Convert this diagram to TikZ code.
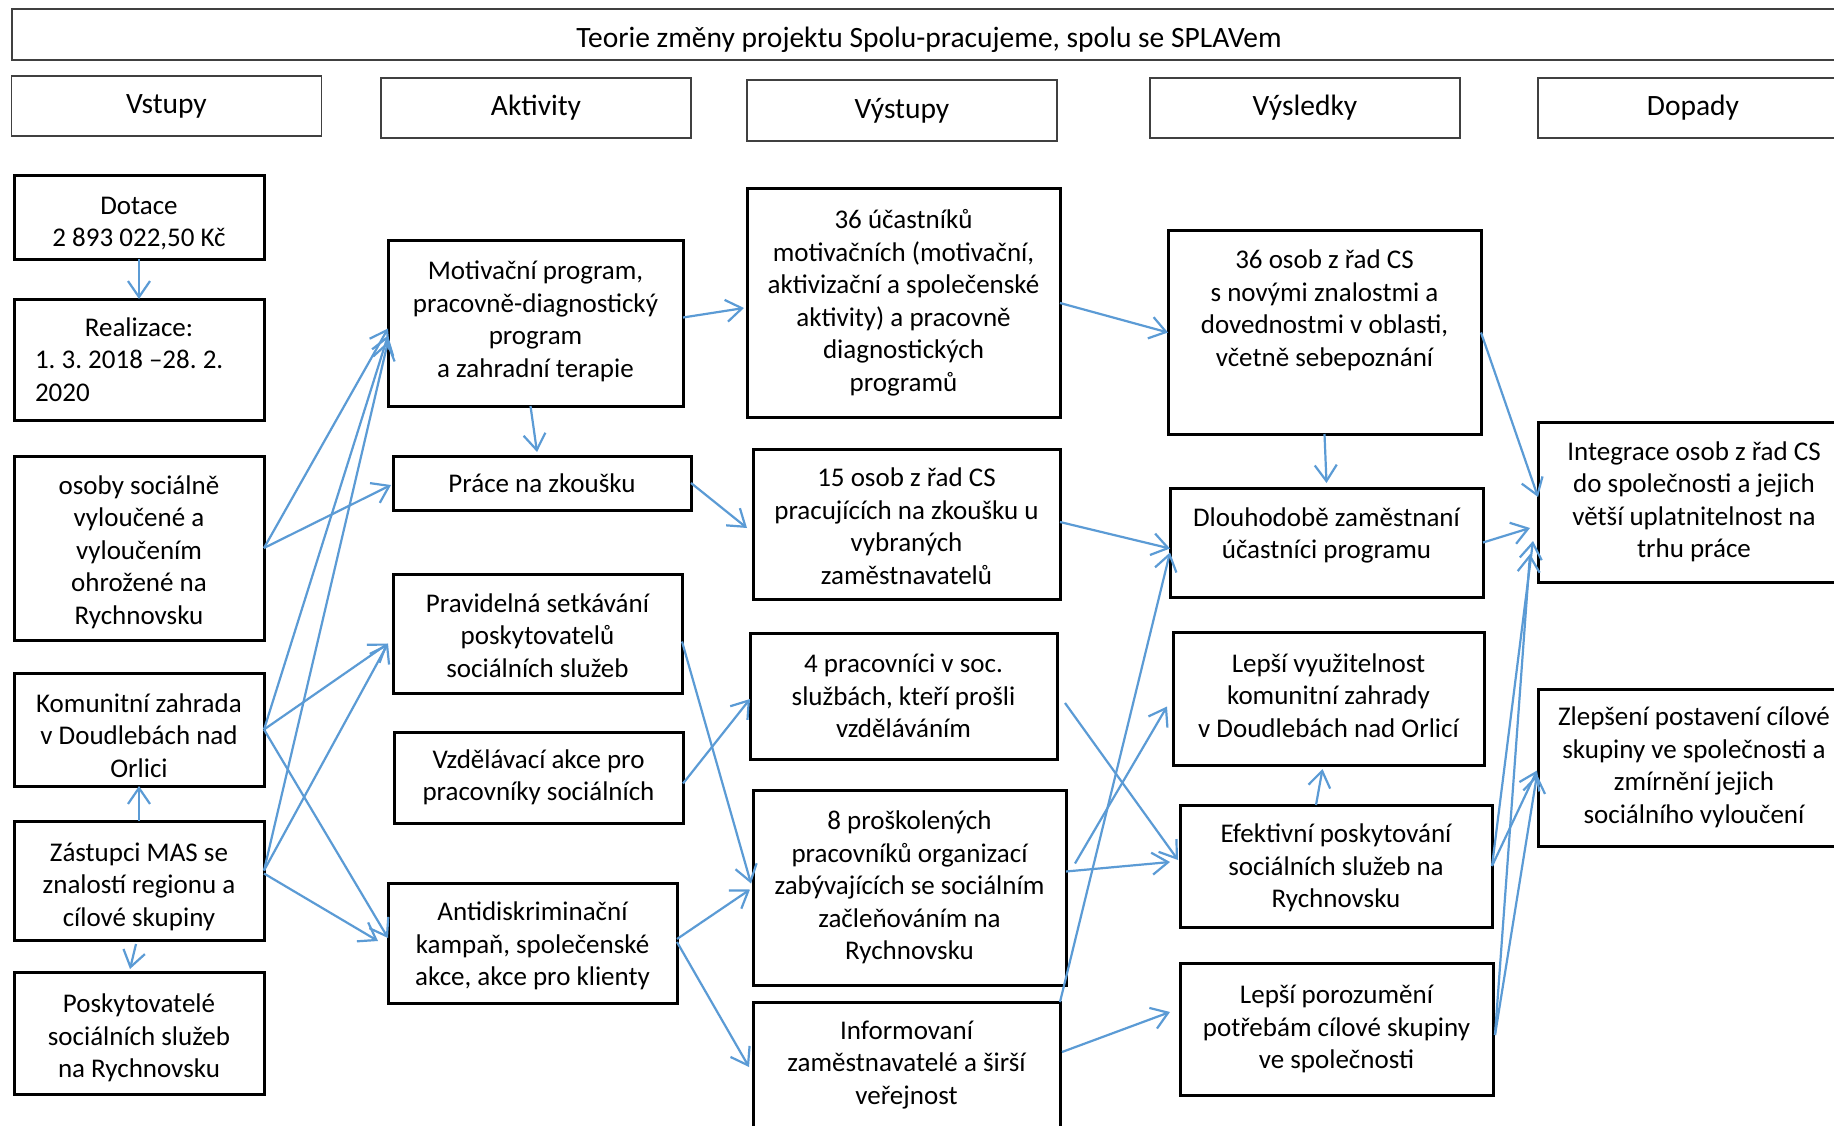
\documentclass[tikz,border=0pt]{standalone}
\usepackage{fontspec}
\setmainfont{Carlito}
\frenchspacing
\usetikzlibrary{positioning,calc,arrows.meta}
\definecolor{myblue}{RGB}{91,155,213}
\definecolor{mygrey}{RGB}{64,64,64}
\pgfdeclarelayer{background}
\pgfsetlayers{background,main}
\newcommand\statebox[4][0pt]{
    \node[
        blackb,
        #3,
    label={[name=#2T,align=center,yshift=#1]center:{#4}}] (#2) {};
}

\begin{document}
\begin{tikzpicture}[x=1pt,y=-1pt,outer sep=0pt,
            font=\fontsize{27}{32.5}\selectfont,
            headb/.style={
                draw=mygrey,
                line width=1.5pt,
                align=center,
                font=\fontsize{29.5}{36}\selectfont,
                minimum width=310pt,
            minimum height=60pt},
            blackb/.style={
                draw=black,
                line width=3pt,
            align=center},
            linkb/.style={
                draw=myblue,
                line width=2.2pt,
            -{Straight Barb[length=16pt,width=22pt]}},
        ]
        \useasboundingbox (0,0) rectangle (1834,1126);

        \node[headb,minimum width=1834pt,minimum height=51pt,
            label={[name=TitleT,font=\fontsize{29.5}{36}\selectfont,yshift=-5pt]center:{Teorie změny projektu Spolu-pracujeme, spolu se SPLAVem}}] (Title) at (929,34.5) {};

        \node[headb] (HVst) at (166.5,106) {Vstupy};
        \node[headb] (HAkt) at (536,108) {Aktivity};
        \node[headb,minimum height=61pt] (HVys) at (902,110.5) {Výstupy};
        \node[headb] (HVysl) at (1305,108) {Výsledky};
        \node[headb] (HDop) at (1693,108) {Dopady};

        \statebox[-6pt]{Dot}{minimum width=250pt,minimum height=83pt,at={(139,217.5)}}{Dotace\\2 893 022,50 Kč}
        \node[blackb,minimum width=250pt,minimum height=121pt,below=40pt of Dot,align=left] (Real) {\makebox[208pt]{Realizace:}\\1. 3. 2018 –28. 2.\\2020};
        \statebox[-4pt]{Osoby}{minimum width=250pt,minimum height=184pt,below=36pt of Real}{osoby sociálně\\vyloučené a\\vyloučením\\ohrožené na\\Rychnovsku}
        \statebox[-6pt]{Zahr}{minimum width=250pt,minimum height=113pt,below=33pt of Osoby}{Komunitní zahrada\\v Doudlebách nad\\Orlici}
        \statebox[-6pt]{Mas}{minimum width=250pt,minimum height=119pt,below=35pt of Zahr}{Zástupci MAS se\\znalostí regionu a\\cílové skupiny}
        \statebox[-5pt]{Posk}{minimum width=250pt,minimum height=122pt,below=32pt of Mas}{Poskytovatelé\\sociálních služeb\\na Rychnovsku}

        \statebox[2pt]{Motiv}{minimum width=295pt,minimum height=165pt,at={(535.5,323.5)}}{Motivační program,\\pracovně-diagnostický\\program\\a zahradní terapie}
        \statebox{Prace}{minimum width=298pt,minimum height=54pt,at={(542,483)}}{Práce na zkoušku}
        \statebox[-2pt]{Setk}{minimum width=289pt,minimum height=119pt,at={(537.5,633.5)}}{Pravidelná setkávání\\poskytovatelů\\sociálních služeb}
        \statebox{Vzdel}{minimum width=289pt,minimum height=91pt,at={(538.5,777.5)}}{Vzdělávací akce pro\\pracovníky sociálních}
        \statebox[-3pt]{Anti}{minimum width=289pt,minimum height=120pt,at={(532.5,943)}}{Antidiskriminační\\kampaň, společenské\\akce, akce pro klienty}

        \statebox{Ucast}{minimum width=313pt,minimum height=228pt,at={(903.5,303)}}{36 účastníků\\motivačních (motivační,\\aktivizační a společenské\\aktivity) a pracovně\\diagnostických\\programů}
        \statebox[-2pt]{Zkous}{minimum width=307pt,minimum height=150pt,at={(906.5,524)}}{15 osob z řad CS\\pracujících na zkoušku u\\vybraných\\zaměstnavatelů}
        \statebox{Pracov}{minimum width=307pt,minimum height=126pt,at={(903.5,696)}}{4 pracovníci v soc.\\službách, kteří prošli\\vzděláváním}
        \statebox{Prosk}{minimum width=313pt,minimum height=195pt,at={(909.5,887.5)}}{8 proškolených\\pracovníků organizací\\zabývajících se sociálním\\začleňováním na\\Rychnovsku}
        \statebox{Inform}{minimum width=307pt,minimum height=126pt,at={(906.5,1065)}}{Informovaní\\zaměstnavatelé a širší\\veřejnost}

        \statebox[22pt]{Znal}{minimum width=313pt,minimum height=203pt,at={(1324.5,332.5)}}{36 osob z řad CS\\s novými znalostmi a\\dovednostmi v oblasti,\\včetně sebepoznání}
        \statebox[7pt]{Dlouh}{minimum width=313pt,minimum height=109pt,at={(1326.5,542.5)}}{Dlouhodobě zaměstnaní\\účastníci programu}
        \statebox[3pt]{Vyuz}{minimum width=311pt,minimum height=133pt,at={(1328.5,698.5)}}{Lepší využitelnost\\komunitní zahrady\\v Doudlebách nad Orlicí}
        \statebox[-2pt]{Efekt}{minimum width=312pt,minimum height=122pt,at={(1336,866)}}{Efektivní poskytování\\sociálních služeb na\\Rychnovsku}
        \statebox{Poroz}{minimum width=313pt,minimum height=132pt,at={(1336.5,1029)}}{Lepší porozumění\\potřebám cílové skupiny\\ve společnosti}

        \statebox{Integ}{minimum width=312pt,minimum height=160pt,at={(1694,502)}}{Integrace osob z řad CS\\do společnosti a jejich\\větší uplatnitelnost na\\trhu práce}
        \statebox{Zlep}{minimum width=312pt,minimum height=157pt,at={(1694,767.5)}}{Zlepšení postavení cílové\\skupiny ve společnosti a\\zmírnění jejich\\sociálního vyloučení}

        \draw[linkb] (Dot) -- (Real);
        \draw[linkb] (Mas) -- (Zahr);
        \draw[linkb] ([xshift=-3pt,yshift=-4pt]Mas.south) -- ([xshift=-9pt,yshift=3pt]Posk.north);
        \draw[linkb] (Osoby.east) -- ([yshift=-5pt]Motiv.west);
        \draw[linkb] (Osoby.east) -- ([xshift=-2pt,yshift=-2pt]Prace.west);
        \draw[linkb] (Zahr.east) -- ([yshift=-12pt]Motiv.west);
        \draw[linkb] (Zahr.east) -- ([xshift=-5pt,yshift=-10pt]Setk.west);
        \draw[linkb] (Zahr.east) -- ([yshift=5pt]Anti.west);
        \draw[linkb] ([yshift=10pt]Mas.east) -- ([yshift=-18pt]Motiv.west);
        \draw[linkb] ([yshift=10pt]Mas.east) -- ([xshift=-5pt,yshift=-10pt]Setk.west);
        \draw[linkb] ([yshift=7pt]Mas.east) -- ([xshift=-10pt,yshift=2pt]Anti.west);

        \draw[linkb] ([xshift=-5pt]Motiv.south) -- ([xshift=-5pt,yshift=4pt]Prace.north);
        \draw[linkb] ([yshift=6pt]Motiv.east) -- ([xshift=-3pt,yshift=-5pt]Ucast.west);
        \draw[linkb] (Prace.east) -- ([xshift=-6pt,yshift=-4pt]Zkous.west);
        \draw[linkb] ([yshift=-8pt]Setk.east) -- ([xshift=-2pt,yshift=4pt]Prosk.west);
        \draw[linkb] ([yshift=-6pt]Vzdel.east) -- ([yshift=-3pt]Pracov.west);
        \draw[linkb] ([yshift=4pt]Anti.east) -- ([xshift=-3pt,yshift=-2pt]Prosk.west);
        \draw[linkb] ([yshift=1pt]Anti.east) -- ([xshift=-4pt,yshift=-2pt]Inform.west);

        \draw[linkb] (Ucast.east) -- (Znal.west);
        \draw[linkb] ([yshift=2pt]Zkous.east) -- ([yshift=-6pt]Dlouh.west);
        \draw[linkb] ([xshift=8pt,yshift=-7pt]Pracov.east) -- ([xshift=-2pt,yshift=6pt]Efekt.west);
        \draw[linkb] ([yshift=16pt]Prosk.east) -- ([xshift=-10pt,yshift=4pt]Efekt.west);
        \draw[linkb] ([xshift=9pt,yshift=24pt]Prosk.east) -- ([xshift=-6pt,yshift=-8pt]Vyuz.west);
        \draw[linkb] (Inform.north east) -- ([yshift=-10pt]Dlouh.west);
        \draw[linkb] ([xshift=2pt,yshift=13pt]Inform.east) -- ([xshift=-10pt,yshift=17pt]Poroz.west);

        \draw[linkb] (Znal.south) -- ([yshift=5pt]Dlouh.north);
        \draw[linkb] ([xshift=-20pt]Efekt.north) -- ([xshift=-6pt,yshift=-4pt]Vyuz.south);
        \draw[linkb] (Znal.east) -- ([yshift=5pt]Integ.west);
        \draw[linkb] (Dlouh.east) -- ([xshift=-8pt,yshift=-26pt]Integ.west);
        \draw[linkb] (Efekt.east) -- ([xshift=-5pt,yshift=-39pt]Integ.west);
        \draw[linkb] (Efekt.east) -- ([xshift=-1pt,yshift=-3pt]Zlep.west);
        \draw[linkb] ([xshift=2pt,yshift=-6pt]Poroz.east) -- ([xshift=-8pt,yshift=-52pt]Integ.west);
        \draw[linkb] ([xshift=2pt,yshift=-6pt]Poroz.east) -- ([xshift=-1pt,yshift=-7pt]Zlep.west);

        \begin{pgfonlayer}{background}
            \fill[white] (0,0) rectangle (1834,1126);
        \end{pgfonlayer}
    \end{tikzpicture}
\end{document}
